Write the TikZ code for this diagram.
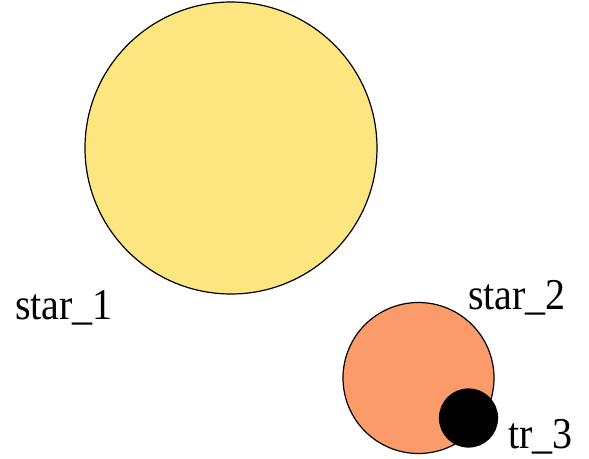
\documentclass[tikz,border=0pt]{standalone}
\usepackage{fontspec}
\newfontfamily\labelfont{Liberation Serif}
\definecolor{staryellow}{RGB}{253,229,128}
\definecolor{starorange}{RGB}{252,155,106}
\tikzset{
  lbl/.style={anchor=base west, inner sep=0pt, yscale=1.1, font=\labelfont\fontsize{40}{40}\selectfont},
  body/.style={circle, draw=black, line width=1.2pt, inner sep=0pt}
}
\begin{document}
\begin{tikzpicture}[x=1pt,y=1pt]
\useasboundingbox (0,0) rectangle (589,458);
\node[body, fill=staryellow, minimum size=292pt] (s1) at (231,310) {};
\node[body, fill=starorange, minimum size=151pt] (s2) at (418.5,80) {};
\node[body, fill=black, minimum size=58pt] (t3) at (468.5,40) {};
\node[lbl] (l1) at (15,138) {star\_1};
\node[lbl] (l2) at (468,148) {star\_2};
\node[lbl] (l3) at (508,10) {tr\_3};
\end{tikzpicture}
\end{document}
